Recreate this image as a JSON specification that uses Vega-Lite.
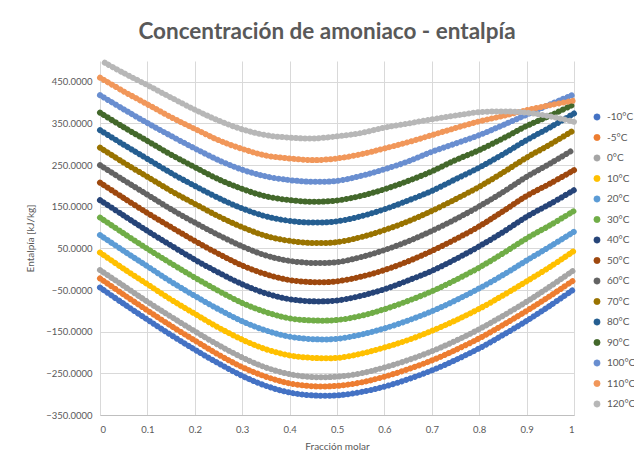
{
  "$schema": "https://vega.github.io/schema/vega-lite/v6.json",
  "width": 474,
  "height": 354,
  "autosize": {"type": "none"},
  "padding": {"left": 100, "top": 61, "right": 60, "bottom": 54},
  "background": "white",
  "config": {"font": "Lato", "view": {"stroke": null}},
  "title": {"text": "Concentración de amoniaco - entalpía", "fontSize": 22.5, "fontWeight": "bold", "color": "#595959", "anchor": "middle", "dx": -10, "offset": 7, "font": "Lato"},
  "datasets": {
    "d": [
      {"s":"-10°C","x":0,"h":-44},{"s":"-10°C","x":0.05,"h":-83},{"s":"-10°C","x":0.1,"h":-121},{"s":"-10°C","x":0.15,"h":-158},{"s":"-10°C","x":0.2,"h":-193},{"s":"-10°C","x":0.25,"h":-226},{"s":"-10°C","x":0.3,"h":-256},{"s":"-10°C","x":0.35,"h":-280},{"s":"-10°C","x":0.4,"h":-296},{"s":"-10°C","x":0.45,"h":-303},{"s":"-10°C","x":0.5,"h":-303},{"s":"-10°C","x":0.55,"h":-295},{"s":"-10°C","x":0.6,"h":-282},{"s":"-10°C","x":0.65,"h":-264},{"s":"-10°C","x":0.7,"h":-243},{"s":"-10°C","x":0.75,"h":-218},{"s":"-10°C","x":0.8,"h":-190},{"s":"-10°C","x":0.85,"h":-158},{"s":"-10°C","x":0.9,"h":-124},{"s":"-10°C","x":0.95,"h":-87},{"s":"-10°C","x":1,"h":-48},
      {"s":"-5°C","x":0,"h":-22},{"s":"-5°C","x":0.05,"h":-61},{"s":"-5°C","x":0.1,"h":-99},{"s":"-5°C","x":0.15,"h":-136},{"s":"-5°C","x":0.2,"h":-171},{"s":"-5°C","x":0.25,"h":-205},{"s":"-5°C","x":0.3,"h":-235},{"s":"-5°C","x":0.35,"h":-258},{"s":"-5°C","x":0.4,"h":-274},{"s":"-5°C","x":0.45,"h":-281},{"s":"-5°C","x":0.5,"h":-280},{"s":"-5°C","x":0.55,"h":-272},{"s":"-5°C","x":0.6,"h":-258},{"s":"-5°C","x":0.65,"h":-240},{"s":"-5°C","x":0.7,"h":-219},{"s":"-5°C","x":0.75,"h":-194},{"s":"-5°C","x":0.8,"h":-166},{"s":"-5°C","x":0.85,"h":-134},{"s":"-5°C","x":0.9,"h":-100},{"s":"-5°C","x":0.95,"h":-64},{"s":"-5°C","x":1,"h":-26},
      {"s":"0°C","x":0,"h":-2},{"s":"0°C","x":0.05,"h":-40},{"s":"0°C","x":0.1,"h":-78},{"s":"0°C","x":0.15,"h":-114},{"s":"0°C","x":0.2,"h":-149},{"s":"0°C","x":0.25,"h":-182},{"s":"0°C","x":0.3,"h":-212},{"s":"0°C","x":0.35,"h":-236},{"s":"0°C","x":0.4,"h":-252},{"s":"0°C","x":0.45,"h":-259},{"s":"0°C","x":0.5,"h":-258},{"s":"0°C","x":0.55,"h":-250},{"s":"0°C","x":0.6,"h":-236},{"s":"0°C","x":0.65,"h":-218},{"s":"0°C","x":0.7,"h":-197},{"s":"0°C","x":0.75,"h":-172},{"s":"0°C","x":0.8,"h":-144},{"s":"0°C","x":0.85,"h":-112},{"s":"0°C","x":0.9,"h":-78},{"s":"0°C","x":0.95,"h":-41},{"s":"0°C","x":1,"h":-2},
      {"s":"10°C","x":0,"h":40},{"s":"10°C","x":0.05,"h":1},{"s":"10°C","x":0.1,"h":-36},{"s":"10°C","x":0.15,"h":-73},{"s":"10°C","x":0.2,"h":-107},{"s":"10°C","x":0.25,"h":-140},{"s":"10°C","x":0.3,"h":-169},{"s":"10°C","x":0.35,"h":-192},{"s":"10°C","x":0.4,"h":-207},{"s":"10°C","x":0.45,"h":-213},{"s":"10°C","x":0.5,"h":-213},{"s":"10°C","x":0.55,"h":-203},{"s":"10°C","x":0.6,"h":-188},{"s":"10°C","x":0.65,"h":-170},{"s":"10°C","x":0.7,"h":-148},{"s":"10°C","x":0.75,"h":-123},{"s":"10°C","x":0.8,"h":-95},{"s":"10°C","x":0.85,"h":-63},{"s":"10°C","x":0.9,"h":-29},{"s":"10°C","x":0.95,"h":6},{"s":"10°C","x":1,"h":44},
      {"s":"20°C","x":0,"h":82},{"s":"20°C","x":0.05,"h":44},{"s":"20°C","x":0.1,"h":7},{"s":"20°C","x":0.15,"h":-30},{"s":"20°C","x":0.2,"h":-64},{"s":"20°C","x":0.25,"h":-96},{"s":"20°C","x":0.3,"h":-125},{"s":"20°C","x":0.35,"h":-147},{"s":"20°C","x":0.4,"h":-162},{"s":"20°C","x":0.45,"h":-168},{"s":"20°C","x":0.5,"h":-167},{"s":"20°C","x":0.55,"h":-157},{"s":"20°C","x":0.6,"h":-142},{"s":"20°C","x":0.65,"h":-123},{"s":"20°C","x":0.7,"h":-101},{"s":"20°C","x":0.75,"h":-75},{"s":"20°C","x":0.8,"h":-46},{"s":"20°C","x":0.85,"h":-14},{"s":"20°C","x":0.9,"h":21},{"s":"20°C","x":0.95,"h":55},{"s":"20°C","x":1,"h":90},
      {"s":"30°C","x":0,"h":124},{"s":"30°C","x":0.05,"h":86},{"s":"30°C","x":0.1,"h":49},{"s":"30°C","x":0.15,"h":14},{"s":"30°C","x":0.2,"h":-20},{"s":"30°C","x":0.25,"h":-52},{"s":"30°C","x":0.3,"h":-81},{"s":"30°C","x":0.35,"h":-103},{"s":"30°C","x":0.4,"h":-118},{"s":"30°C","x":0.45,"h":-123},{"s":"30°C","x":0.5,"h":-122},{"s":"30°C","x":0.55,"h":-112},{"s":"30°C","x":0.6,"h":-96},{"s":"30°C","x":0.65,"h":-76},{"s":"30°C","x":0.7,"h":-53},{"s":"30°C","x":0.75,"h":-26},{"s":"30°C","x":0.8,"h":4},{"s":"30°C","x":0.85,"h":38},{"s":"30°C","x":0.9,"h":74},{"s":"30°C","x":0.95,"h":106},{"s":"30°C","x":1,"h":140},
      {"s":"40°C","x":0,"h":166},{"s":"40°C","x":0.05,"h":129},{"s":"40°C","x":0.1,"h":92},{"s":"40°C","x":0.15,"h":57},{"s":"40°C","x":0.2,"h":23},{"s":"40°C","x":0.25,"h":-8},{"s":"40°C","x":0.3,"h":-36},{"s":"40°C","x":0.35,"h":-58},{"s":"40°C","x":0.4,"h":-72},{"s":"40°C","x":0.45,"h":-77},{"s":"40°C","x":0.5,"h":-75},{"s":"40°C","x":0.55,"h":-64},{"s":"40°C","x":0.6,"h":-48},{"s":"40°C","x":0.65,"h":-27},{"s":"40°C","x":0.7,"h":-4},{"s":"40°C","x":0.75,"h":24},{"s":"40°C","x":0.8,"h":55},{"s":"40°C","x":0.85,"h":89},{"s":"40°C","x":0.9,"h":126},{"s":"40°C","x":0.95,"h":157},{"s":"40°C","x":1,"h":190},
      {"s":"50°C","x":0,"h":208},{"s":"50°C","x":0.05,"h":171},{"s":"50°C","x":0.1,"h":135},{"s":"50°C","x":0.15,"h":101},{"s":"50°C","x":0.2,"h":68},{"s":"50°C","x":0.25,"h":37},{"s":"50°C","x":0.3,"h":9},{"s":"50°C","x":0.35,"h":-12},{"s":"50°C","x":0.4,"h":-26},{"s":"50°C","x":0.45,"h":-31},{"s":"50°C","x":0.5,"h":-29},{"s":"50°C","x":0.55,"h":-18},{"s":"50°C","x":0.6,"h":-2},{"s":"50°C","x":0.65,"h":19},{"s":"50°C","x":0.7,"h":44},{"s":"50°C","x":0.75,"h":72},{"s":"50°C","x":0.8,"h":103},{"s":"50°C","x":0.85,"h":139},{"s":"50°C","x":0.9,"h":176},{"s":"50°C","x":0.95,"h":206},{"s":"50°C","x":1,"h":238},
      {"s":"60°C","x":0,"h":250},{"s":"60°C","x":0.05,"h":214},{"s":"60°C","x":0.1,"h":179},{"s":"60°C","x":0.15,"h":144},{"s":"60°C","x":0.2,"h":112},{"s":"60°C","x":0.25,"h":82},{"s":"60°C","x":0.3,"h":55},{"s":"60°C","x":0.35,"h":33},{"s":"60°C","x":0.4,"h":20},{"s":"60°C","x":0.45,"h":15},{"s":"60°C","x":0.5,"h":17},{"s":"60°C","x":0.55,"h":29},{"s":"60°C","x":0.6,"h":46},{"s":"60°C","x":0.65,"h":67},{"s":"60°C","x":0.7,"h":92},{"s":"60°C","x":0.75,"h":120},{"s":"60°C","x":0.8,"h":151},{"s":"60°C","x":0.85,"h":185},{"s":"60°C","x":0.9,"h":222},{"s":"60°C","x":0.95,"h":254},{"s":"60°C","x":1,"h":288},
      {"s":"70°C","x":0,"h":292},{"s":"70°C","x":0.05,"h":256},{"s":"70°C","x":0.1,"h":222},{"s":"70°C","x":0.15,"h":188},{"s":"70°C","x":0.2,"h":157},{"s":"70°C","x":0.25,"h":127},{"s":"70°C","x":0.3,"h":101},{"s":"70°C","x":0.35,"h":80},{"s":"70°C","x":0.4,"h":68},{"s":"70°C","x":0.45,"h":63},{"s":"70°C","x":0.5,"h":65},{"s":"70°C","x":0.55,"h":77},{"s":"70°C","x":0.6,"h":94},{"s":"70°C","x":0.65,"h":115},{"s":"70°C","x":0.7,"h":140},{"s":"70°C","x":0.75,"h":168},{"s":"70°C","x":0.8,"h":198},{"s":"70°C","x":0.85,"h":232},{"s":"70°C","x":0.9,"h":268},{"s":"70°C","x":0.95,"h":300},{"s":"70°C","x":1,"h":334},
      {"s":"80°C","x":0,"h":334},{"s":"80°C","x":0.05,"h":299},{"s":"80°C","x":0.1,"h":265},{"s":"80°C","x":0.15,"h":231},{"s":"80°C","x":0.2,"h":200},{"s":"80°C","x":0.25,"h":171},{"s":"80°C","x":0.3,"h":146},{"s":"80°C","x":0.35,"h":127},{"s":"80°C","x":0.4,"h":116},{"s":"80°C","x":0.45,"h":112},{"s":"80°C","x":0.5,"h":115},{"s":"80°C","x":0.55,"h":127},{"s":"80°C","x":0.6,"h":144},{"s":"80°C","x":0.65,"h":165},{"s":"80°C","x":0.7,"h":188},{"s":"80°C","x":0.75,"h":216},{"s":"80°C","x":0.8,"h":244},{"s":"80°C","x":0.85,"h":276},{"s":"80°C","x":0.9,"h":310},{"s":"80°C","x":0.95,"h":341},{"s":"80°C","x":1,"h":374},
      {"s":"90°C","x":0,"h":376},{"s":"90°C","x":0.05,"h":341},{"s":"90°C","x":0.1,"h":308},{"s":"90°C","x":0.15,"h":275},{"s":"90°C","x":0.2,"h":245},{"s":"90°C","x":0.25,"h":216},{"s":"90°C","x":0.3,"h":193},{"s":"90°C","x":0.35,"h":175},{"s":"90°C","x":0.4,"h":166},{"s":"90°C","x":0.45,"h":162},{"s":"90°C","x":0.5,"h":165},{"s":"90°C","x":0.55,"h":176},{"s":"90°C","x":0.6,"h":192},{"s":"90°C","x":0.65,"h":212},{"s":"90°C","x":0.7,"h":235},{"s":"90°C","x":0.75,"h":262},{"s":"90°C","x":0.8,"h":286},{"s":"90°C","x":0.85,"h":314},{"s":"90°C","x":0.9,"h":344},{"s":"90°C","x":0.95,"h":369},{"s":"90°C","x":1,"h":396},
      {"s":"100°C","x":0,"h":418},{"s":"100°C","x":0.05,"h":384},{"s":"100°C","x":0.1,"h":351},{"s":"100°C","x":0.15,"h":320},{"s":"100°C","x":0.2,"h":290},{"s":"100°C","x":0.25,"h":262},{"s":"100°C","x":0.3,"h":239},{"s":"100°C","x":0.35,"h":223},{"s":"100°C","x":0.4,"h":214},{"s":"100°C","x":0.45,"h":210},{"s":"100°C","x":0.5,"h":212},{"s":"100°C","x":0.55,"h":224},{"s":"100°C","x":0.6,"h":240},{"s":"100°C","x":0.65,"h":259},{"s":"100°C","x":0.7,"h":282},{"s":"100°C","x":0.75,"h":302},{"s":"100°C","x":0.8,"h":322},{"s":"100°C","x":0.85,"h":346},{"s":"100°C","x":0.9,"h":371},{"s":"100°C","x":0.95,"h":396},{"s":"100°C","x":1,"h":420},
      {"s":"110°C","x":0,"h":460},{"s":"110°C","x":0.05,"h":427},{"s":"110°C","x":0.1,"h":396},{"s":"110°C","x":0.15,"h":365},{"s":"110°C","x":0.2,"h":337},{"s":"110°C","x":0.25,"h":310},{"s":"110°C","x":0.3,"h":289},{"s":"110°C","x":0.35,"h":273},{"s":"110°C","x":0.4,"h":266},{"s":"110°C","x":0.45,"h":262},{"s":"110°C","x":0.5,"h":266},{"s":"110°C","x":0.55,"h":276},{"s":"110°C","x":0.6,"h":290},{"s":"110°C","x":0.65,"h":305},{"s":"110°C","x":0.7,"h":322},{"s":"110°C","x":0.75,"h":339},{"s":"110°C","x":0.8,"h":355},{"s":"110°C","x":0.85,"h":368},{"s":"110°C","x":0.9,"h":382},{"s":"110°C","x":0.95,"h":394},{"s":"110°C","x":1,"h":405},
      {"s":"120°C","x":0.01,"h":496},{"s":"120°C","x":0.05,"h":471},{"s":"120°C","x":0.1,"h":442},{"s":"120°C","x":0.15,"h":412},{"s":"120°C","x":0.2,"h":383},{"s":"120°C","x":0.25,"h":357},{"s":"120°C","x":0.3,"h":336},{"s":"120°C","x":0.35,"h":322},{"s":"120°C","x":0.4,"h":316},{"s":"120°C","x":0.45,"h":314},{"s":"120°C","x":0.5,"h":319},{"s":"120°C","x":0.55,"h":327},{"s":"120°C","x":0.6,"h":340},{"s":"120°C","x":0.65,"h":350},{"s":"120°C","x":0.7,"h":360},{"s":"120°C","x":0.75,"h":369},{"s":"120°C","x":0.8,"h":377},{"s":"120°C","x":0.85,"h":379},{"s":"120°C","x":0.9,"h":376},{"s":"120°C","x":0.95,"h":367},{"s":"120°C","x":1,"h":354}
    ]
  },
  "data": {"name": "d"},
  "mark": {"type": "line", "strokeWidth": 6, "strokeCap": "round", "strokeDash": [0.01, 4.6], "interpolate": "catmull-rom", "clip": false},
  "encoding": {
    "x": {
      "field": "x", "type": "quantitative",
      "scale": {"domain": [0, 1], "nice": false, "zero": false},
      "axis": {
        "values": [0, 0.1, 0.2, 0.3, 0.4, 0.5, 0.6, 0.7, 0.8, 0.9, 1],
        "format": "~g", "title": "Fracción molar",
        "grid": true, "gridColor": "#D9D9D9", "ticks": false,
        "domainColor": "#BFBFBF", "labelColor": "#595959", "labelFontSize": 9.5,
        "labelPadding": 9, "titleColor": "#595959", "titleFontSize": 10,
        "titleFontWeight": "normal", "titlePadding": 8, "labelFont": "Lato", "titleFont": "Lato"
      }
    },
    "y": {
      "field": "h", "type": "quantitative",
      "scale": {"domain": [-350, 500], "nice": false, "zero": false},
      "axis": {
        "values": [-350, -250, -150, -50, 50, 150, 250, 350, 450],
        "format": ".4f", "title": "Entalpía [kJ/kg]",
        "grid": true, "gridColor": "#D9D9D9", "ticks": false, "domain": false,
        "labelColor": "#595959", "labelFontSize": 9.5, "labelPadding": 8,
        "titleColor": "#595959", "titleFontSize": 10, "titleFontWeight": "normal",
        "titlePadding": 10, "labelFont": "Lato", "titleFont": "Lato"
      }
    },
    "color": {
      "field": "s", "type": "nominal",
      "scale": {
        "domain": ["-10°C", "-5°C", "0°C", "10°C", "20°C", "30°C", "40°C", "50°C", "60°C", "70°C", "80°C", "90°C", "100°C", "110°C", "120°C"],
        "range": ["#4472C4", "#ED7D31", "#A5A5A5", "#FFC000", "#5B9BD5", "#70AD47", "#264478", "#9E480E", "#636363", "#997300", "#255E91", "#43682B", "#698ED0", "#F1975A", "#B7B7B7"]
      },
      "legend": {
        "title": null, "orient": "none", "legendX": 492, "legendY": 51,
        "symbolType": "circle", "symbolSize": 40, "symbolStrokeWidth": 0.5, "symbolDash": [],
        "labelColor": "#595959", "labelFontSize": 10, "labelFont": "Lato",
        "rowPadding": 10.5, "labelOffset": 5,
        "encode": {"symbols": {"update": {"fill": {"scale": "color", "field": "value"}, "fillOpacity": {"value": 1}}}}
      }
    }
  }
}
